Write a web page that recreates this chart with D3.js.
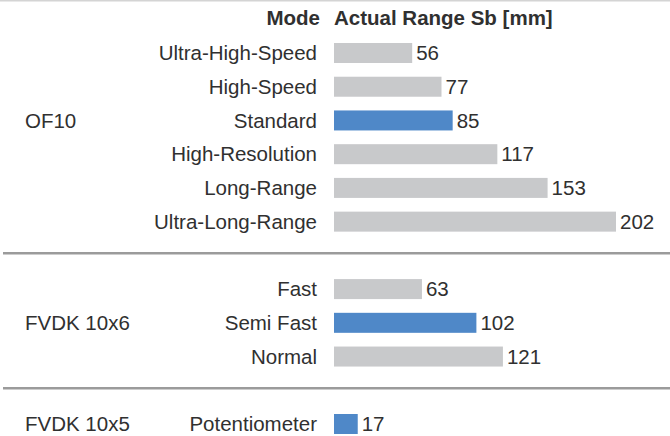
<!DOCTYPE html>
<html lang="en">

<head>
    <meta charset="UTF-8">
    <title>Actual Range Sb</title>
    <script src="https://cdn.jsdelivr.net/npm/d3@7"></script>
    <style>
        body { margin: 0; background: #fff; }
        text { font-family: "Liberation Sans", Arial, sans-serif; fill: #303030; font-size: 20.5px; }
    </style>
</head>

<body>
    <script>
        // data
        var groups = ["OF10", "FVDK 10x6", "FVDK 10x5"];
        var modes = ["Ultra-High-Speed", "High-Speed", "Standard", "High-Resolution", "Long-Range", "Ultra-Long-Range",
            "Fast", "Semi Fast", "Normal",
            "Potentiometer"];
        var modeGroup = ["OF10", "OF10", "OF10", "OF10", "OF10", "OF10",
            "FVDK 10x6", "FVDK 10x6", "FVDK 10x6",
            "FVDK 10x5"];
        var ranges = [56, 77, 85, 117, 153, 202, 63, 102, 121, 17];
        var highlighted = ["Standard", "Semi Fast", "Potentiometer"];
        var headers = ["Mode", "Actual Range Sb [mm]"];

        var w = 670;
        var h = 436;

        var svg = d3.select("body")
            .append("svg")
            .attr("width", w)
            .attr("height", h);

        // row slots: one empty slot between groups
        var rows = [];
        var slot = 0;
        groups.forEach(function (g, gi) {
            if (gi > 0) slot++;
            modes.forEach(function (m, i) {
                if (modeGroup[i] === g) {
                    rows.push({ mode: m, group: g, value: ranges[i], slot: slot });
                    slot++;
                }
            });
        });

        var y = d3.scaleLinear()
            .domain([0, d3.max(rows, function (d) { return d.slot; })])
            .range([53, 424]);

        var x = d3.scaleLinear()
            .domain([0, d3.max(ranges)])
            .range([334, 616]);

        var barH = 20;

        // top line
        svg.append("line")
            .attr("x1", 0).attr("x2", w)
            .attr("y1", 0.75).attr("y2", 0.75)
            .attr("stroke", "#d4d4d4")
            .attr("stroke-width", 1.5);

        // header
        svg.append("text")
            .attr("x", 320).attr("y", 18)
            .attr("text-anchor", "end")
            .attr("dy", "0.35em")
            .style("font-weight", "bold")
            .text(headers[0]);
        svg.append("text")
            .attr("x", 334).attr("y", 18)
            .attr("dy", "0.35em")
            .style("font-weight", "bold")
            .text(headers[1]);

        // separators between groups
        groups.slice(1).forEach(function (g) {
            var first = rows.find(function (d) { return d.group === g; });
            var sy = y(first.slot - 1) - 2;
            svg.append("line")
                .attr("x1", 3).attr("x2", w)
                .attr("y1", sy).attr("y2", sy)
                .attr("stroke", "#9b9b9b")
                .attr("stroke-width", 2.5);
        });

        var row = svg.selectAll("g.row")
            .data(rows)
            .enter()
            .append("g")
            .attr("class", "row")
            .attr("transform", function (d) { return "translate(0," + y(d.slot) + ")"; });

        row.append("rect")
            .attr("x", x(0))
            .attr("y", -barH / 2)
            .attr("width", function (d) { return x(d.value) - x(0); })
            .attr("height", barH)
            .attr("fill", function (d) {
                return highlighted.indexOf(d.mode) >= 0 ? "#4f88c8" : "#c8c9cb";
            });

        row.append("text")
            .attr("x", 317)
            .attr("dy", "0.35em")
            .attr("text-anchor", "end")
            .text(function (d) { return d.mode; });

        row.append("text")
            .attr("x", function (d) { return x(d.value) + 4; })
            .attr("dy", "0.35em")
            .text(function (d) { return d.value; });

        // group labels sit on the highlighted row
        row.filter(function (d) { return highlighted.indexOf(d.mode) >= 0; })
            .append("text")
            .attr("x", 25)
            .attr("dy", "0.35em")
            .text(function (d) { return d.group; });
    </script>
</body>

</html>
